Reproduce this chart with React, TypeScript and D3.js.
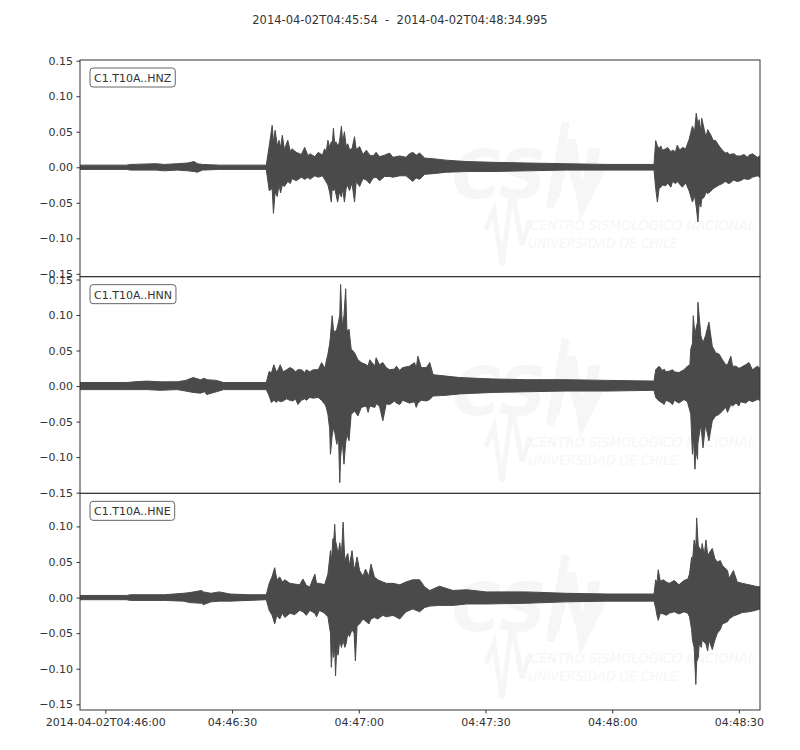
import { useEffect, useRef } from "react";
import * as d3 from "d3";

// [seconds after 2014-04-02T04:45:54, upper envelope, lower envelope]
const envZ: [number, number, number][] = [
    [0, 0.003, -0.003], [11, 0.003, -0.003], [12, 0.004, -0.004], [18, 0.005, -0.004], [20, 0.004, -0.005],
    [23, 0.005, -0.004], [25.5, 0.006, -0.005], [27, 0.008, -0.006], [27.8, 0.005, -0.007], [29, 0.004, -0.004],
    [33, 0.003, -0.003], [44.1, 0.003, -0.003], [44.8, 0.03, -0.033], [45.5, 0.059, -0.03], [45.8, 0.035, -0.065],
    [46.2, 0.052, -0.035], [46.7, 0.03, -0.041], [47.1, 0.038, -0.025], [47.5, 0.028, -0.036], [47.9, 0.045, -0.025],
    [48.4, 0.025, -0.027], [49.2, 0.038, -0.02], [49.8, 0.022, -0.023], [50.2, 0.026, -0.016], [51.2, 0.021, -0.019],
    [52.4, 0.018, -0.014], [53.2, 0.028, -0.017], [54.0, 0.016, -0.014], [54.4, 0.019, -0.017], [55.6, 0.015, -0.012],
    [56.4, 0.021, -0.014], [57.4, 0.017, -0.012], [57.9, 0.026, -0.017], [58.3, 0.022, -0.021], [58.7, 0.038, -0.025],
    [59.1, 0.028, -0.035], [59.5, 0.036, -0.049], [59.7, 0.03, -0.03], [60.0, 0.055, -0.033], [60.3, 0.032, -0.03],
    [60.6, 0.036, -0.038], [61.0, 0.03, -0.049], [61.4, 0.035, -0.035], [61.9, 0.058, -0.042], [62.2, 0.035, -0.03],
    [62.6, 0.05, -0.049], [63.0, 0.03, -0.03], [63.4, 0.033, -0.025], [63.8, 0.025, -0.033], [64.4, 0.026, -0.022],
    [65.0, 0.043, -0.049], [65.4, 0.025, -0.02], [66.2, 0.029, -0.027], [67.0, 0.018, -0.016], [67.8, 0.024, -0.018],
    [68.6, 0.017, -0.023], [69.4, 0.016, -0.015], [70.1, 0.021, -0.014], [70.9, 0.015, -0.019], [72.1, 0.017, -0.013],
    [73.3, 0.02, -0.013], [74.1, 0.014, -0.014], [75.7, 0.016, -0.012], [77.2, 0.014, -0.012], [78.0, 0.019, -0.016],
    [78.8, 0.021, -0.02], [79.6, 0.017, -0.015], [80.4, 0.02, -0.017], [81.6, 0.013, -0.01], [83.6, 0.012, -0.009],
    [86.7, 0.01, -0.007], [91.5, 0.008, -0.006], [97.8, 0.007, -0.006], [105.7, 0.006, -0.005], [115, 0.005, -0.004],
    [125, 0.004, -0.004], [135.9, 0.004, -0.004], [136.3, 0.0375, -0.03], [136.7, 0.03, -0.049], [137.1, 0.026, -0.03],
    [137.5, 0.03, -0.028], [137.9, 0.024, -0.025], [138.7, 0.026, -0.026], [139.1, 0.028, -0.022], [139.9, 0.022, -0.028],
    [140.3, 0.024, -0.02], [141.0, 0.022, -0.023], [141.4, 0.031, -0.02], [142.0, 0.024, -0.024], [142.6, 0.028, -0.028],
    [143.4, 0.026, -0.022], [144.2, 0.039, -0.033], [145.0, 0.058, -0.049], [145.5, 0.05, -0.04], [145.9, 0.076, -0.056],
    [146.3, 0.06, -0.077], [146.6, 0.067, -0.05], [147.0, 0.05, -0.056], [147.2, 0.069, -0.045], [147.8, 0.053, -0.042],
    [148.2, 0.042, -0.035], [148.6, 0.053, -0.037], [149.3, 0.046, -0.034], [149.9, 0.038, -0.03], [150.5, 0.0375, -0.028],
    [151.3, 0.03, -0.025], [152.1, 0.024, -0.023], [152.8, 0.02, -0.02], [153.3, 0.021, -0.022], [153.7, 0.018, -0.023],
    [154.8, 0.019, -0.018], [155.5, 0.016, -0.02], [156.4, 0.016, -0.019], [157.2, 0.018, -0.016], [158.0, 0.014, -0.017],
    [158.4, 0.017, -0.017], [159.2, 0.019, -0.014], [160.4, 0.014, -0.012], [160.995, 0.016, -0.014],
];

const envN: [number, number, number][] = [
    [0, 0.005, -0.005], [11, 0.005, -0.005], [13, 0.006, -0.005], [15.8, 0.007, -0.005], [19, 0.006, -0.006],
    [23, 0.006, -0.005], [25, 0.008, -0.007], [26.8, 0.012, -0.009], [28.5, 0.009, -0.01], [29.5, 0.011, -0.008],
    [30, 0.009, -0.012], [32.3, 0.008, -0.008], [34, 0.005, -0.005], [44.1, 0.005, -0.005], [44.8, 0.021, -0.014],
    [45.3, 0.018, -0.023], [45.9, 0.03, -0.02], [46.5, 0.02, -0.023], [46.9, 0.023, -0.02], [47.4, 0.03, -0.022],
    [48.1, 0.02, -0.021], [48.9, 0.023, -0.018], [49.7, 0.026, -0.02], [50.4, 0.024, -0.021], [51.0, 0.02, -0.018],
    [51.6, 0.023, -0.026], [52.4, 0.023, -0.02], [53.2, 0.019, -0.018], [53.6, 0.023, -0.02], [54.4, 0.02, -0.016],
    [55.2, 0.023, -0.017], [56.4, 0.023, -0.016], [57.2, 0.033, -0.02], [58.0, 0.025, -0.026], [58.3, 0.035, -0.03],
    [58.7, 0.045, -0.04], [59.1, 0.059, -0.06], [59.3, 0.07, -0.096], [59.7, 0.099, -0.07], [60.0, 0.08, -0.059],
    [60.3, 0.075, -0.065], [60.8, 0.08, -0.082], [61.2, 0.09, -0.07], [61.5, 0.1, -0.136], [61.7, 0.143, -0.1],
    [62.1, 0.085, -0.077], [62.5, 0.099, -0.11], [62.9, 0.137, -0.08], [63.2, 0.077, -0.068], [63.7, 0.08, -0.077],
    [64.2, 0.052, -0.04], [65.0, 0.047, -0.035], [65.8, 0.037, -0.042], [66.6, 0.033, -0.03], [67.8, 0.03, -0.028],
    [68.2, 0.028, -0.037], [68.6, 0.037, -0.028], [69.8, 0.028, -0.03], [70.1, 0.04, -0.025], [70.9, 0.03, -0.028],
    [71.7, 0.033, -0.049], [72.5, 0.026, -0.025], [73.3, 0.023, -0.026], [74.5, 0.024, -0.021], [74.9, 0.028, -0.024],
    [75.7, 0.022, -0.026], [76.4, 0.026, -0.02], [78.0, 0.028, -0.024], [79.2, 0.033, -0.022], [79.6, 0.025, -0.03],
    [80.0, 0.042, -0.024], [80.8, 0.026, -0.02], [82.0, 0.026, -0.021], [82.8, 0.033, -0.019], [83.6, 0.016, -0.014],
    [86.7, 0.014, -0.013], [89.9, 0.012, -0.011], [93.8, 0.011, -0.01], [97.8, 0.01, -0.009], [105.7, 0.009, -0.008],
    [115, 0.009, -0.007], [125, 0.008, -0.007], [135.9, 0.007, -0.006], [136.3, 0.023, -0.016], [137.1, 0.028, -0.021],
    [137.9, 0.022, -0.024], [138.3, 0.024, -0.026], [138.7, 0.02, -0.02], [139.5, 0.021, -0.022], [140.3, 0.023, -0.026],
    [140.7, 0.02, -0.02], [141.8, 0.019, -0.024], [143.0, 0.023, -0.019], [143.8, 0.028, -0.022], [144.4, 0.03, -0.035],
    [144.6, 0.052, -0.04], [145.0, 0.06, -0.096], [145.2, 0.099, -0.07], [145.6, 0.07, -0.117], [145.8, 0.08, -0.09],
    [146.2, 0.09, -0.103], [146.3, 0.118, -0.08], [147.0, 0.071, -0.054], [147.5, 0.061, -0.087], [148.1, 0.071, -0.054],
    [148.9, 0.09, -0.077], [149.7, 0.056, -0.049], [150.5, 0.047, -0.042], [151.3, 0.045, -0.04], [152.1, 0.037, -0.035],
    [152.9, 0.03, -0.03], [153.3, 0.03, -0.037], [154.1, 0.042, -0.026], [154.5, 0.028, -0.028], [155.3, 0.028, -0.024],
    [156.0, 0.025, -0.028], [156.4, 0.026, -0.022], [157.6, 0.03, -0.024], [158.4, 0.033, -0.02], [159.2, 0.023, -0.022],
    [160.4, 0.028, -0.019], [160.995, 0.025, -0.02],
];

const envE: [number, number, number][] = [
    [0, 0.003, -0.003], [11, 0.003, -0.003], [12, 0.004, -0.004], [20, 0.004, -0.004], [24.5, 0.006, -0.005],
    [26, 0.007, -0.007], [28.8, 0.01, -0.008], [29.2, 0.008, -0.01], [31, 0.006, -0.006], [33, 0.008, -0.005],
    [35.5, 0.005, -0.005], [40, 0.004, -0.004], [44.1, 0.004, -0.003], [44.8, 0.02, -0.018], [45.5, 0.03, -0.025],
    [46.1, 0.042, -0.037], [46.6, 0.025, -0.025], [47.3, 0.029, -0.03], [47.9, 0.022, -0.022], [48.5, 0.025, -0.028],
    [49.7, 0.02, -0.022], [50.8, 0.019, -0.024], [52.0, 0.018, -0.018], [52.8, 0.026, -0.02], [53.6, 0.017, -0.025],
    [54.4, 0.015, -0.018], [55.6, 0.033, -0.022], [56.0, 0.02, -0.027], [56.7, 0.02, -0.018], [57.9, 0.018, -0.022],
    [58.7, 0.033, -0.027], [59.3, 0.066, -0.05], [59.5, 0.05, -0.098], [59.9, 0.083, -0.06], [60.0, 0.07, -0.084],
    [60.3, 0.103, -0.07], [60.5, 0.08, -0.11], [60.8, 0.072, -0.07], [61.1, 0.06, -0.081], [61.5, 0.077, -0.06],
    [61.9, 0.06, -0.07], [62.3, 0.106, -0.06], [62.7, 0.05, -0.07], [63.0, 0.057, -0.065], [63.4, 0.062, -0.05],
    [63.8, 0.045, -0.055], [64.4, 0.066, -0.045], [64.9, 0.04, -0.05], [65.2, 0.045, -0.089], [65.6, 0.057, -0.04],
    [66.2, 0.038, -0.037], [67.0, 0.03, -0.03], [67.6, 0.04, -0.033], [68.4, 0.03, -0.037], [68.9, 0.047, -0.03],
    [69.7, 0.029, -0.028], [70.5, 0.025, -0.03], [71.7, 0.022, -0.025], [72.5, 0.02, -0.027], [74.1, 0.02, -0.025],
    [75.7, 0.018, -0.03], [77.2, 0.022, -0.02], [78.8, 0.025, -0.016], [80.4, 0.025, -0.02], [81.6, 0.015, -0.014],
    [82.8, 0.01, -0.012], [85.1, 0.016, -0.011], [88.3, 0.01, -0.011], [91.5, 0.011, -0.009], [96.2, 0.008, -0.009],
    [105.7, 0.008, -0.008], [115, 0.006, -0.006], [125, 0.005, -0.005], [135.9, 0.005, -0.005], [136.3, 0.025, -0.015],
    [136.6, 0.02, -0.025], [136.9, 0.039, -0.032], [137.4, 0.023, -0.022], [138.1, 0.025, -0.023], [138.8, 0.022, -0.025],
    [139.5, 0.02, -0.022], [140.7, 0.024, -0.02], [141.8, 0.018, -0.023], [143.0, 0.024, -0.02], [143.9, 0.026, -0.022],
    [144.3, 0.033, -0.027], [144.8, 0.057, -0.045], [145.0, 0.05, -0.06], [145.4, 0.081, -0.07], [145.8, 0.07, -0.122],
    [146.0, 0.112, -0.09], [146.4, 0.07, -0.084], [146.6, 0.071, -0.065], [147.1, 0.065, -0.07], [147.3, 0.076, -0.06],
    [147.8, 0.06, -0.063], [148.2, 0.081, -0.065], [148.6, 0.06, -0.075], [148.9, 0.062, -0.06], [149.7, 0.069, -0.073],
    [150.3, 0.055, -0.06], [150.9, 0.05, -0.05], [151.6, 0.052, -0.045], [152.1, 0.045, -0.037], [153.3, 0.038, -0.034],
    [153.7, 0.027, -0.03], [154.7, 0.038, -0.026], [155.6, 0.022, -0.024], [156.8, 0.02, -0.021], [158.4, 0.018, -0.02],
    [159.9, 0.016, -0.018], [160.995, 0.015, -0.016],
];

const channels = ["C1.T10A..HNZ", "C1.T10A..HNN", "C1.T10A..HNE"];
const yLimits = [[-0.154, 0.151], [-0.151, 0.154], [-0.158, 0.1465]];
const yTicks = [-0.15, -0.1, -0.05, 0, 0.05, 0.1, 0.15];
const xTickSeconds = [0, 30, 60, 90, 120, 150];

const startMs = Date.UTC(2014, 3, 2, 4, 45, 54);
const endMs = startMs + 160995;
const firstTickMs = Date.UTC(2014, 3, 2, 4, 46, 0);
const title = "2014-04-02T04:45:54  -  2014-04-02T04:48:34.995";

type Pt = { date: Date; hi: number; lo: number };

export default function App() {
    const ref = useRef<SVGSVGElement>(null);

    useEffect(() => {
        const width = 800;
        const height = 750;
        const left = 80, right = 760, top = 60, bottom = 710;
        const panelH = (bottom - top) / 3;
        const font = "DejaVu Sans, sans-serif";
        const ink = "#333";
        const traceColor = "#4a4a4a";
        const faint = "#f6f6f6";

        const svg = d3.select(ref.current)
            .attr("width", width)
            .attr("height", height);
        svg.selectAll("*").remove();

        svg.append("rect").attr("width", width).attr("height", height).attr("fill", "white");

        svg.append("text")
            .attr("x", 400).attr("y", 24)
            .attr("text-anchor", "middle")
            .attr("font-family", font).attr("font-size", 11.5)
            .attr("fill", ink)
            .style("white-space", "pre")
            .text(title);

        const x = d3.scaleUtc()
            .domain([new Date(startMs), new Date(endMs)])
            .range([left, right]);

        const series = [envZ, envN, envE];
        const defs = svg.append("defs");

        series.forEach((env, i) => {
            const y0 = top + i * panelH;
            const y = d3.scaleLinear().domain(yLimits[i]).range([y0 + panelH, y0]);
            const g = svg.append("g");

            defs.append("clipPath").attr("id", "clip" + i)
                .append("rect")
                .attr("x", left).attr("y", y0)
                .attr("width", right - left).attr("height", panelH);

            // faint watermark
            const wm = g.append("g").attr("fill", faint).attr("font-family", font).attr("font-style", "italic");
            wm.append("path")
                .attr("d", `M486,${y0 + 170} L494,${y0 + 150} L502,${y0 + 205} L512,${y0 + 130} L522,${y0 + 185} L530,${y0 + 160}`)
                .attr("fill", "none").attr("stroke", faint).attr("stroke-width", 5);
            wm.append("path")
                .attr("d", `M566,${y0 + 62} L550,${y0 + 148} L572,${y0 + 80} L582,${y0 + 148} L602,${y0 + 108}`)
                .attr("fill", "none").attr("stroke", faint).attr("stroke-width", 8);
            wm.append("text").attr("x", 452).attr("y", y0 + 138)
                .attr("font-size", 68).attr("font-weight", "bold")
                .attr("textLength", 150).attr("lengthAdjust", "spacingAndGlyphs")
                .text("CSN");
            wm.append("text").attr("x", 530).attr("y", y0 + 170)
                .attr("font-size", 14)
                .attr("textLength", 225).attr("lengthAdjust", "spacingAndGlyphs")
                .text("CENTRO SISMOLÓGICO NACIONAL");
            wm.append("text").attr("x", 528).attr("y", y0 + 188)
                .attr("font-size", 14)
                .attr("textLength", 150).attr("lengthAdjust", "spacingAndGlyphs")
                .text("UNIVERSIDAD DE CHILE");

            const pts: Pt[] = env.map(([t, hi, lo]) => ({ date: new Date(startMs + t * 1000), hi, lo }));

            const area = d3.area<Pt>()
                .x(d => x(d.date))
                .y0(d => y(d.lo))
                .y1(d => y(d.hi));

            g.append("path")
                .datum(pts)
                .attr("clip-path", `url(#clip${i})`)
                .attr("d", area)
                .attr("fill", traceColor)
                .attr("stroke", traceColor)
                .attr("stroke-width", 1)
                .attr("stroke-linejoin", "miter");

            // frame
            g.append("rect")
                .attr("x", left).attr("y", y0)
                .attr("width", right - left).attr("height", panelH)
                .attr("fill", "none").attr("stroke", ink).attr("stroke-width", 1);

            // y axis
            const yAxis = g.append("g")
                .attr("transform", `translate(${left},0)`)
                .call(d3.axisLeft(y)
                    .tickValues(yTicks.filter(v => v >= yLimits[i][0] && v <= yLimits[i][1]))
                    .tickFormat(v => d3.format(".2f")(v as number).replace("-", "\u2212"))
                    .tickSize(3.5).tickPadding(3.5));
            yAxis.select(".domain").remove();
            yAxis.selectAll("line").attr("stroke", ink);
            yAxis.selectAll("text").attr("fill", ink).attr("font-family", font).attr("font-size", 11);

            // station label
            const label = g.append("g").attr("transform", `translate(90,${y0 + 8})`);
            const txt = label.append("text")
                .attr("x", 4).attr("y", 14)
                .attr("font-family", font).attr("font-size", 11)
                .attr("fill", ink)
                .text(channels[i]);
            const w = (txt.node() as SVGTextElement).getComputedTextLength();
            label.insert("rect", "text")
                .attr("x", 0).attr("y", 0)
                .attr("width", w + 8).attr("height", 19)
                .attr("rx", 3)
                .attr("fill", "white").attr("stroke", "#666").attr("stroke-width", 1);
        });

        const tickDates = xTickSeconds.map(s => new Date(firstTickMs + s * 1000));
        const fmtFull = d3.utcFormat("%Y-%m-%dT%H:%M:%S");
        const fmtShort = d3.utcFormat("%H:%M:%S");

        const xAxis = svg.append("g")
            .attr("transform", `translate(0,${bottom})`)
            .call(d3.axisBottom(x)
                .tickValues(tickDates)
                .tickFormat((d, k) => (k === 0 ? fmtFull(d as Date) : fmtShort(d as Date)))
                .tickSize(3.5).tickPadding(5));
        xAxis.select(".domain").remove();
        xAxis.selectAll("line").attr("stroke", ink);
        xAxis.selectAll("text").attr("fill", ink).attr("font-family", font).attr("font-size", 11);
    }, []);

    return <svg ref={ref} style={{ position: "absolute", left: 0, top: 0 }}></svg>;
}
